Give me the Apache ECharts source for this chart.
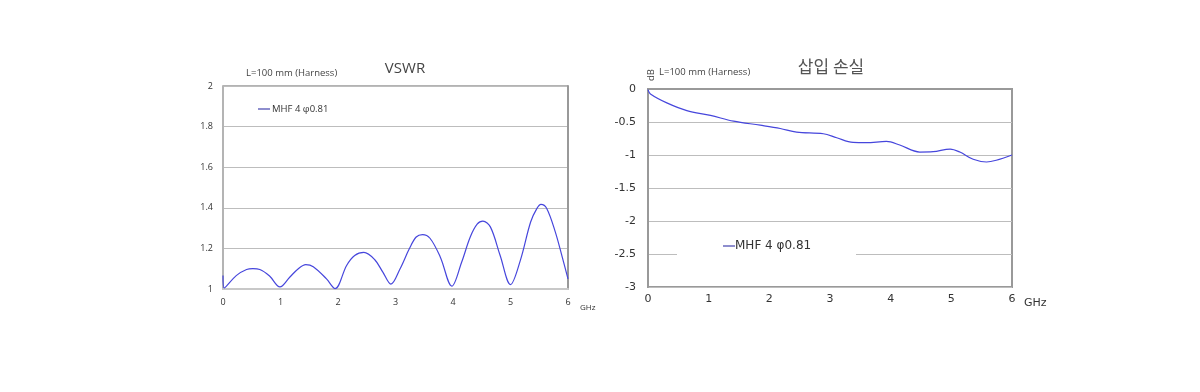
<!DOCTYPE html>
<html>
<head>
<meta charset="utf-8">
<script src="https://cdn.jsdelivr.net/npm/echarts@6/dist/echarts.min.js"></script>
<style>html,body{margin:0;padding:0;background:#fff}#c{width:1200px;height:392px}</style>
</head>
<body>
<div id="c"></div>
<script>
const seriesName = 'MHF 4 φ0.81';
const xTicks = [0, 1, 2, 3, 4, 5, 6];
const vswrFreq = [0, 0.02, 0.23, 0.41, 0.52, 0.64, 0.81, 0.99, 1.16, 1.31, 1.44, 1.57, 1.80, 1.95, 2.15, 2.29, 2.45, 2.64, 2.78, 2.92, 3.08, 3.24, 3.36, 3.47, 3.60, 3.78, 3.98, 4.15, 4.30, 4.42, 4.52, 4.65, 4.82, 5.00, 5.17, 5.35, 5.46, 5.53, 5.63, 5.78, 5.90, 6.00];
const vswrValues = [1.066, 1.005, 1.066, 1.096, 1.100, 1.096, 1.064, 1.010, 1.058, 1.100, 1.120, 1.110, 1.050, 1.002, 1.116, 1.165, 1.180, 1.144, 1.083, 1.024, 1.100, 1.198, 1.256, 1.268, 1.250, 1.157, 1.014, 1.132, 1.256, 1.319, 1.334, 1.306, 1.165, 1.022, 1.140, 1.330, 1.397, 1.417, 1.397, 1.280, 1.157, 1.050];
const lossFreq = [0, 0.04, 0.31, 0.64, 1.03, 1.41, 1.85, 2.18, 2.45, 2.89, 3.11, 3.38, 3.60, 3.93, 4.15, 4.48, 4.70, 4.98, 5.14, 5.36, 5.58, 5.74, 6.00];
const lossValues = [-0.01, -0.075, -0.21, -0.327, -0.40, -0.487, -0.548, -0.598, -0.653, -0.678, -0.739, -0.81, -0.814, -0.794, -0.849, -0.955, -0.95, -0.91, -0.955, -1.065, -1.106, -1.08, -1.0];

const vswrData = vswrFreq.map((f, i) => [f, vswrValues[i]]);
const lossData = lossFreq.map((f, i) => [f, lossValues[i]]);

const chart = echarts.init(document.getElementById('c'));
const lineColor = '#4646dc';
const fmt = v => String(+v.toFixed(1));
chart.setOption({
  animation: false,
  title: [
    {text: 'VSWR', left: 400, top: 56, textAlign: 'center', textStyle: {fontFamily: 'Open Sans', fontSize: 15, fontWeight: 'normal', color: '#444'}},
    {text: '삽입 손실', left: 826, top: 53, textAlign: 'center', textStyle: {fontFamily: 'Noto Sans CJK KR', fontSize: 17, fontWeight: 'normal', color: '#555'}}
  ],
  grid: [
    {left: 223, right: 632, top: 86, bottom: 103, show: true, borderColor: '#666', borderWidth: 1},
    {left: 648, right: 188, top: 89, bottom: 105, show: true, borderColor: '#999', borderWidth: 2}
  ],
  xAxis: [
    {gridIndex: 0, type: 'value', min: 0, max: 6, interval: 1, axisTick: {show: false}, splitLine: {show: false},
     axisLine: {lineStyle: {color: '#c8c8c8', width: 2}},
     axisLabel: {margin: 9, fontFamily: 'Open Sans', fontSize: 9, color: '#333', formatter: v => xTicks.includes(v) ? String(v) : ''}},
    {gridIndex: 1, type: 'value', min: 0, max: 6, interval: 1, axisTick: {show: false}, splitLine: {show: false},
     axisLine: {lineStyle: {color: '#999', width: 2}},
     axisLabel: {margin: 7, fontFamily: 'DejaVu Sans', fontSize: 11, color: '#333', formatter: v => xTicks.includes(v) ? String(v) : ''}}
  ],
  yAxis: [
    {gridIndex: 0, type: 'value', min: 1, max: 2, interval: 0.2, axisTick: {show: false},
     axisLine: {show: true, lineStyle: {color: '#b4b4b4', width: 2}},
     splitLine: {lineStyle: {color: '#bdbdbd', width: 1.2}},
     axisLabel: {margin: 10, fontFamily: 'Open Sans', fontSize: 9, color: '#333', formatter: fmt}},
    {gridIndex: 1, type: 'value', min: -3, max: 0, interval: 0.5, axisTick: {show: false},
     axisLine: {show: true, lineStyle: {color: '#999', width: 2}},
     splitLine: {lineStyle: {color: '#bdbdbd', width: 1.2}},
     axisLabel: {margin: 12, fontFamily: 'DejaVu Sans', fontSize: 11, color: '#333', formatter: fmt}},
    {gridIndex: 0, type: 'value', position: 'right', min: 1, max: 2, interval: 0.2, axisTick: {show: false},
     axisLabel: {show: false}, splitLine: {show: false},
     axisLine: {show: true, lineStyle: {color: '#999', width: 2}}}
  ],
  legend: [
    {data: [{name: seriesName, icon: 'rect', itemStyle: {color: '#1c1c9c'}}], left: 258, top: 104, itemWidth: 12, itemHeight: 1, itemGap: 2,
     padding: 0, textStyle: {fontFamily: 'Open Sans', fontSize: 9.5, color: '#333', padding: [0, 0, 0, -3]}},
    {data: [{name: seriesName + ' ', icon: 'rect', itemStyle: {color: '#1c1c9c'}}], left: 677, top: 235, itemWidth: 12, itemHeight: 1,
     padding: [5, 41, 15, 46], backgroundColor: '#fff',
     textStyle: {fontFamily: 'DejaVu Sans', fontSize: 12, color: '#333', padding: [0, 0, 0, -5]}}
  ],
  series: [
    {name: seriesName, type: 'line', xAxisIndex: 0, yAxisIndex: 0, data: vswrData, smooth: 0.35, showSymbol: false,
     lineStyle: {color: lineColor, width: 1.2}, itemStyle: {color: lineColor}},
    {name: seriesName + ' ', type: 'line', xAxisIndex: 1, yAxisIndex: 1, data: lossData, smooth: 0.35, showSymbol: false,
     lineStyle: {color: lineColor, width: 1.2}, itemStyle: {color: lineColor}}
  ],
  graphic: [
    {type: 'text', left: 246, top: 68, style: {text: 'L=100 mm (Harness)', font: '9.5px "Open Sans"', fill: '#444'}},
    {type: 'text', left: 659, top: 67, style: {text: 'L=100 mm (Harness)', font: '9.5px "Open Sans"', fill: '#444'}},
    {type: 'text', x: 646, y: 81, rotation: Math.PI / 2, style: {text: 'dB', font: '9.5px "Open Sans"', fill: '#444'}},
    {type: 'text', left: 580, top: 304, style: {text: 'GHz', font: '8px "Open Sans"', fill: '#333'}},
    {type: 'text', left: 1024, top: 298, style: {text: 'GHz', font: '11px "DejaVu Sans"', fill: '#333'}}
  ]
});
</script>
</body>
</html>
